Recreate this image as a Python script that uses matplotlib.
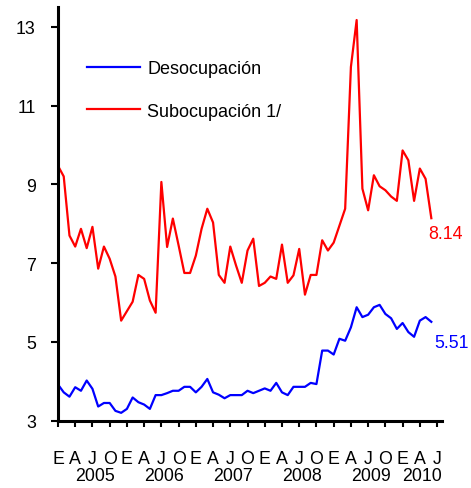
import matplotlib
matplotlib.use('Agg')
import matplotlib.pyplot as plt
import matplotlib.transforms as mtransforms

plt.rcParams['font.family'] = ['Liberation Sans', 'DejaVu Sans']

# monthly data, enero 2005 .. junio 2010
months = list(range(66))
desocupacion = [3.92, 3.72, 3.61, 3.85, 3.76, 4.02, 3.81, 3.36, 3.45, 3.45,
                3.25, 3.20, 3.30, 3.59, 3.47, 3.41, 3.30, 3.65, 3.65, 3.70,
                3.76, 3.76, 3.86, 3.86, 3.72, 3.86, 4.06, 3.72, 3.66, 3.57,
                3.65, 3.65, 3.65, 3.76, 3.70, 3.76, 3.82, 3.76, 3.96, 3.72,
                3.65, 3.86, 3.86, 3.86, 3.96, 3.93, 4.78, 4.78, 4.68, 5.08,
                5.03, 5.37, 5.88, 5.63, 5.69, 5.88, 5.94, 5.71, 5.60, 5.33,
                5.48, 5.25, 5.13, 5.54, 5.63, 5.51]
subocupacion = [9.47, 9.20, 7.70, 7.42, 7.87, 7.38, 7.92, 6.86, 7.42, 7.11,
                6.66, 5.54, 5.78, 6.02, 6.70, 6.60, 6.05, 5.74, 9.06, 7.41,
                8.13, 7.45, 6.75, 6.75, 7.19, 7.87, 8.38, 8.03, 6.70, 6.50,
                7.42, 6.94, 6.50, 7.32, 7.62, 6.42, 6.50, 6.66, 6.60, 7.47,
                6.50, 6.69, 7.36, 6.20, 6.70, 6.70, 7.58, 7.32, 7.52, 7.95,
                8.38, 11.98, 13.17, 8.89, 8.34, 9.23, 8.95, 8.85, 8.69, 8.58,
                9.86, 9.61, 8.58, 9.40, 9.14, 8.14]

tick_pos = list(range(0, 67, 3))
tick_labels = ['E', 'A', 'J', 'O'] * 5 + ['E', 'A', 'J']
years = ['2005', '2006', '2007', '2008', '2009', '2010']
year_pos = [6.5, 18.5, 30.5, 42.5, 54.5, 63.3]

fig = plt.figure(figsize=(4.71, 4.89), dpi=100)
ax = fig.add_axes([0.1231, 0.1376, 0.8146, 0.846])

ax.plot(months, desocupacion, color='#0000FF', lw=1.6, label='Desocupación')
ax.plot(months, subocupacion, color='#FF0000', lw=1.6, label='Subocupación 1/')

ax.set_xlim(0, 66.8)
ax.set_ylim(3, 13.5)
ax.set_yticks([3, 5, 7, 9, 11, 13])
ax.set_xticks(tick_pos)
ax.set_xticklabels(tick_labels)

for s in ['top', 'right']:
    ax.spines[s].set_visible(False)
for s in ['left', 'bottom']:
    ax.spines[s].set_linewidth(2.2)

ax.tick_params(axis='y', direction='out', length=5, width=1.5, pad=11, labelsize=12.8)
ax.tick_params(axis='x', direction='out', length=4, width=1.5, pad=17, labelsize=12.8)

# years under the month letters
trans = mtransforms.blended_transform_factory(ax.transData, ax.transAxes)
for yr, xp in zip(years, year_pos):
    ax.text(xp, -0.133, yr, transform=trans, ha='center', va='center', fontsize=12.8)

# last values
ax.text(64.4, 7.75, '8.14', color='#FF0000', ha='left', va='center', fontsize=12.8)
ax.text(65.6, 4.99, '5.51', color='#0000FF', ha='left', va='center', fontsize=12.8)

ax.legend(loc='upper left', bbox_to_anchor=(0.0756, 0.872), frameon=False, fontsize=13,
          handlelength=2.95, handletextpad=0.4, labelspacing=1.42, borderpad=0, borderaxespad=0)

plt.savefig('out.png', dpi=100)
